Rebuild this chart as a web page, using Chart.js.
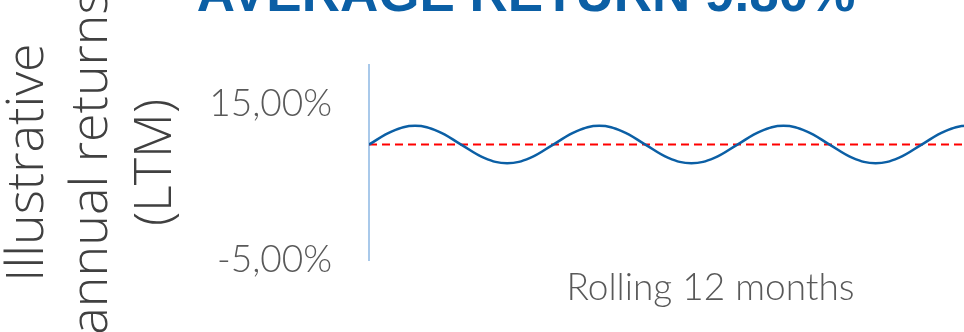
<!DOCTYPE html>
<html>
<head>
<meta charset="utf-8">
<script src="https://cdn.jsdelivr.net/npm/chart.js@4"></script>
<style>
  html, body { margin: 0; padding: 0; background: #fff; overflow: hidden; }
  #wrap { position: absolute; left: 0; top: -35px; width: 1052px; height: 367px; }
</style>
</head>
<body>
<div id="wrap"><canvas id="myChart1" width="1052" height="367"></canvas></div>
<script>
// rolling 12 month returns, one point every 1.5 months
const months = [0, 1, 2, 3, 4, 5, 6, 7, 8, 9, 10, 11, 12, 13, 14, 15,
  16, 17, 18, 19, 20, 21, 22, 23, 24, 25, 26, 27, 28, 29, 30];
const returns = [9.8, 11.5, 12.2, 11.5, 9.8, 8.1, 7.4, 8.1,
  9.8, 11.5, 12.2, 11.5, 9.8, 8.1, 7.4, 8.1,
  9.8, 11.5, 12.2, 11.5, 9.8, 8.1, 7.4, 8.1,
  9.8, 11.5, 12.2, 11.5, 9.8, 8.1, 7.4];
const average = 9.8;
const avgMonths = [0, 30];
const yTicks = [-5, 15];

const blue = '#0b5fa5';

var ctx = document.getElementById('myChart1').getContext('2d');
var chart = new Chart(ctx, {
    type: 'line',
    data: {
        datasets: [{
            label: 'Return',
            data: months.map((m, i) => ({ x: m, y: returns[i] })),
            borderColor: blue,
            borderWidth: 2.5,
            pointRadius: 0,
            tension: 0.4,
            fill: false
        }, {
            label: 'Average',
            data: avgMonths.map(m => ({ x: m, y: average })),
            borderColor: '#ff0000',
            borderWidth: 2,
            borderDash: [8, 5],
            pointRadius: 0,
            fill: false
        }]
    },
    options: {
        responsive: false,
        animation: false,
        layout: { padding: 0 },
        plugins: {
            legend: { display: false },
            tooltip: { enabled: false },
            title: {
                display: true,
                text: 'AVERAGE RETURN ' + average.toFixed(2) + '%',
                color: blue,
                font: { family: '"Liberation Sans", Arial, sans-serif', size: 53, weight: 'bold' },
                padding: { top: 0, bottom: 36.4 }
            }
        },
        scales: {
            x: {
                type: 'linear',
                min: 0,
                max: 29.66,
                grid: { display: false },
                border: { display: false },
                ticks: { display: false },
                title: {
                    display: true,
                    text: 'Rolling 12 months',
                    color: '#595959',
                    font: { family: 'Lato', size: 37, weight: 300 },
                    padding: { top: 0, bottom: 22 }
                },
                afterFit: s => { s.height = 72; }
            },
            y: {
                min: -5,
                max: 20,
                grid: { display: false, drawTicks: false },
                border: { display: true, color: '#a9c9ea', width: 2 },
                afterBuildTicks: s => { s.ticks = yTicks.map(v => ({ value: v })); },
                ticks: {
                    padding: 37,
                    color: '#595959',
                    font: { family: 'Lato', size: 37, weight: 300 },
                    callback: v => v.toFixed(2).replace('.', ',') + '%'
                },
                title: {
                    display: true,
                    text: ['Illustrative', 'annual returns', '(LTM)'],
                    color: '#404040',
                    font: { family: '"Open Sans"', size: 52, weight: 300, lineHeight: '64px' },
                    padding: { top: -4, bottom: 0 }
                },
                afterFit: s => { s.width = 369; }
            }
        }
    }
});
</script>
</body>
</html>
